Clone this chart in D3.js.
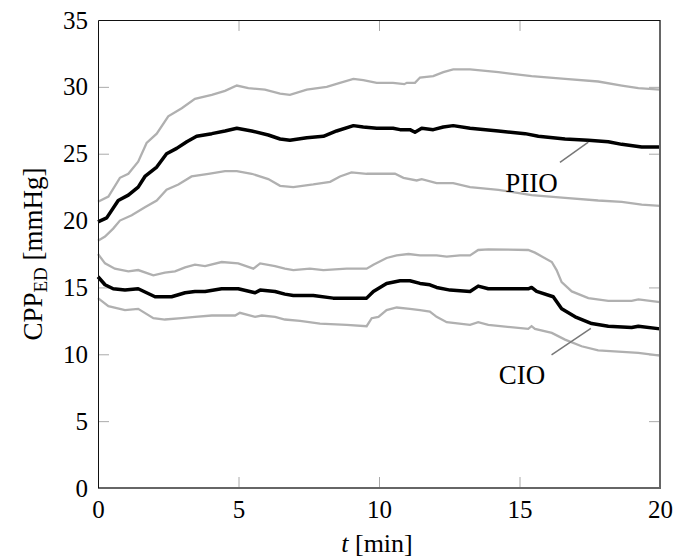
<!DOCTYPE html>
<html>
<head>
	<meta charset="utf-8">
	<script src="https://cdn.jsdelivr.net/npm/d3@7"></script>
	<style>
		body{ margin: 0; background: white; }
		svg text{ font-family: "Liberation Serif", "DejaVu Serif", serif; fill: black; }
		.tick line{ stroke: #aaa; stroke-width: 1; }
		path.band{ fill: none; stroke: #b0b0b0; stroke-width: 2.3; }
		path.mean{ fill: none; stroke: black; stroke-width: 3.5; stroke-linejoin: round; }
		line.leader{ stroke: #777; stroke-width: 1.5; }
	</style>
</head>
<body>
	<script>
		// t [min] vs CPP_ED [mmHg]
		var piioUpper = [[0,21.4],[0.37,21.8],[0.78,23.2],[1.08,23.5],[1.43,24.4],[1.73,25.8],[2.09,26.5],[2.5,27.8],[2.98,28.4],[3.45,29.1],[4.05,29.4],[4.52,29.7],[4.94,30.1],[5.35,29.9],[5.94,29.8],[6.48,29.5],[6.83,29.4],[7.43,29.8],[8.14,30.0],[8.61,30.3],[9.09,30.6],[9.44,30.5],[9.92,30.3],[10.5,30.3],[10.9,30.2],[10.99,30.3],[11.28,30.3],[11.46,30.7],[11.93,30.8],[12.29,31.1],[12.64,31.3],[13.24,31.3],[14.25,31.1],[15.43,30.8],[16.62,30.6],[17.8,30.4],[18.64,30.1],[19.23,29.9],[20,29.8]];
		var piioMean = [[0,19.9],[0.31,20.2],[0.72,21.5],[1.08,21.9],[1.43,22.5],[1.67,23.3],[2.09,24.0],[2.44,25.0],[2.8,25.4],[3.16,25.9],[3.51,26.3],[4.05,26.5],[4.52,26.7],[4.94,26.9],[5.47,26.7],[6.06,26.4],[6.48,26.1],[6.83,26.0],[7.43,26.2],[8.02,26.3],[8.49,26.7],[9.09,27.1],[9.44,27.0],[9.92,26.9],[10.5,26.9],[10.75,26.8],[11.1,26.8],[11.28,26.6],[11.52,26.9],[11.93,26.8],[12.29,27.0],[12.64,27.1],[13.24,26.9],[14.25,26.7],[15.2,26.5],[15.67,26.3],[16.62,26.1],[17.45,26.0],[18.16,25.9],[18.64,25.7],[19.35,25.5],[20,25.5]];
		var piioLower = [[0,18.5],[0.25,18.8],[0.54,19.4],[0.78,20.0],[1.2,20.4],[1.67,21.0],[2.09,21.5],[2.44,22.3],[2.86,22.7],[3.33,23.3],[3.93,23.5],[4.52,23.7],[4.94,23.7],[5.47,23.5],[6.06,23.1],[6.48,22.6],[6.95,22.5],[7.66,22.7],[8.26,22.9],[8.61,23.3],[9.02,23.6],[9.56,23.5],[10.15,23.5],[10.57,23.5],[10.87,23.2],[11.34,23.0],[11.52,23.1],[12.05,22.8],[12.64,22.8],[13.24,22.5],[14.25,22.3],[15.43,21.9],[16.62,21.7],[17.8,21.5],[18.64,21.4],[19.35,21.2],[20,21.1]];

		var cioUpper = [[0,17.5],[0.25,16.8],[0.6,16.4],[1.08,16.2],[1.43,16.3],[1.97,15.9],[2.38,16.1],[2.74,16.2],[3.1,16.5],[3.45,16.7],[3.81,16.6],[4.4,16.9],[4.99,16.8],[5.53,16.4],[5.77,16.8],[6.3,16.6],[6.65,16.4],[6.95,16.3],[7.54,16.4],[8.02,16.3],[8.85,16.4],[9.56,16.4],[9.8,16.7],[10.27,17.2],[10.63,17.4],[11.05,17.5],[11.46,17.4],[12.05,17.4],[12.41,17.3],[12.88,17.4],[13.24,17.4],[13.53,17.8],[13.89,17.85],[15.31,17.8],[15.55,17.6],[16.15,16.9],[16.32,16.3],[16.5,15.4],[16.86,14.7],[17.45,14.2],[18.16,14.0],[18.99,14.0],[19.23,14.1],[20,13.9]];
		var cioMean = [[0,15.8],[0.25,15.2],[0.54,14.9],[0.96,14.8],[1.43,14.9],[1.73,14.6],[2.03,14.3],[2.62,14.3],[3.1,14.6],[3.45,14.7],[3.81,14.7],[4.4,14.9],[4.99,14.9],[5.59,14.6],[5.77,14.8],[6.3,14.7],[6.65,14.5],[6.95,14.4],[7.66,14.4],[8.37,14.2],[9.56,14.2],[9.8,14.7],[10.27,15.3],[10.75,15.5],[11.1,15.5],[11.46,15.3],[11.81,15.2],[12.05,15.0],[12.53,14.8],[13.24,14.7],[13.53,15.1],[13.89,14.9],[15.31,14.9],[15.43,15.0],[15.61,14.7],[16.2,14.3],[16.5,13.4],[16.98,12.8],[17.57,12.3],[18.16,12.1],[18.99,12.0],[19.23,12.1],[20,11.9]];
		var cioLower = [[0,14.2],[0.37,13.6],[0.96,13.3],[1.43,13.4],[1.97,12.7],[2.38,12.6],[2.98,12.7],[3.45,12.8],[4.05,12.9],[4.88,12.9],[5.05,13.1],[5.59,12.8],[5.83,12.9],[6.3,12.8],[6.65,12.6],[7.19,12.5],[7.9,12.3],[8.85,12.2],[9.56,12.1],[9.74,12.7],[9.98,12.8],[10.27,13.3],[10.63,13.5],[11.1,13.4],[11.46,13.3],[11.81,13.2],[12.05,12.8],[12.41,12.4],[13.24,12.2],[13.53,12.4],[13.89,12.2],[15.31,11.9],[15.43,12.1],[15.55,11.9],[16.15,11.6],[16.62,11.1],[17.21,10.6],[17.8,10.3],[18.52,10.2],[19.23,10.1],[20,9.9]];

		var xTicks = [0, 5, 10, 15, 20];
		var yTicks = [0, 5, 10, 15, 20, 25, 30, 35];

		// label text, leader start [t,v], leader end on the curve [t,v], text anchor [t,v]
		var labels = [
			{name: "PIIO", from: [16.44, 24.36], to: [17.45, 25.86], at: [15.43, 22.1]},
			{name: "CIO",  from: [16.14, 9.95],  to: [17.54, 11.94], at: [15.09, 7.78]}
		];

		var serif = "Liberation Serif, DejaVu Serif, serif";
		var margin = {left: 98, top: 20};
		var width = 562, height = 468;

		var svg = d3.select("body").append("svg")
					.attr("width", 675).attr("height", 560)
					.attr("font-family", serif)
					.append("g").attr("transform", "translate(" + margin.left + "," + margin.top + ")");

		var x = d3.scaleLinear().domain([0, 20]).range([0, width]);
		var y = d3.scaleLinear().domain([0, 35]).range([height, 0]);

		// ticks pointing inwards on all four sides
		var axes = [
			svg.append("g").attr("transform", "translate(0," + height + ")")
				.call(d3.axisBottom(x).tickValues(xTicks).tickSizeInner(-11).tickSizeOuter(0).tickPadding(12)),
			svg.append("g")
				.call(d3.axisLeft(y).tickValues(yTicks).tickSizeInner(-11).tickSizeOuter(0).tickPadding(10)),
			svg.append("g")
				.call(d3.axisTop(x).tickValues(xTicks).tickSizeInner(-11).tickSizeOuter(0).tickFormat("")),
			svg.append("g").attr("transform", "translate(" + width + ",0)")
				.call(d3.axisRight(y).tickValues(yTicks).tickSizeInner(-11).tickSizeOuter(0).tickFormat(""))
		];
		axes.forEach(function(a){
			a.attr("font-family", serif).attr("font-size", 25);
		});
		svg.selectAll(".domain").remove();
		// no ticks drawn on top of the corners
		svg.selectAll(".tick line").filter(function(d){ return d == 0 || d == 20 || d == 35; }).remove();

		var line = d3.line()
					.x(function(d){ return x(d[0]); })
					.y(function(d){ return y(d[1]); });

		svg.append("g").selectAll("path")
			.data([piioUpper, piioLower, cioUpper, cioLower])
			.enter().append("path")
			.attr("class", "band")
			.attr("d", line);

		svg.append("g").selectAll("path")
			.data([piioMean, cioMean])
			.enter().append("path")
			.attr("class", "mean")
			.attr("d", line);

		// frame
		svg.append("path").attr("d", "M0," + height + "H" + width + "V0")
			.attr("fill", "none").attr("stroke", "#666").attr("stroke-width", 2);
		svg.append("path").attr("d", "M0.5," + height + "V0.5H" + width)
			.attr("fill", "none").attr("stroke", "#111").attr("stroke-width", 1);

		svg.append("g").selectAll("line")
			.data(labels)
			.enter().append("line")
			.attr("class", "leader")
			.attr("x1", function(d){ return x(d.from[0]); })
			.attr("y1", function(d){ return y(d.from[1]); })
			.attr("x2", function(d){ return x(d.to[0]); })
			.attr("y2", function(d){ return y(d.to[1]); });

		svg.append("g").selectAll("text")
			.data(labels)
			.enter().append("text")
			.attr("x", function(d){ return x(d.at[0]); })
			.attr("y", function(d){ return y(d.at[1]); })
			.attr("text-anchor", "middle")
			.attr("font-size", 27)
			.text(function(d){ return d.name; });

		// axis titles
		var xl = svg.append("text")
			.attr("x", width / 2 - 2).attr("y", height + 64)
			.attr("text-anchor", "middle")
			.attr("font-size", 26);
		xl.append("tspan").attr("font-style", "italic").text("t");
		xl.append("tspan").text(" [min]");

		var yl = svg.append("text")
			.attr("transform", "translate(-56," + (height / 2) + ") rotate(-90)")
			.attr("text-anchor", "middle")
			.attr("font-size", 27);
		yl.append("tspan").text("CPP");
		yl.append("tspan").attr("font-size", 19).attr("dy", 5).text("ED");
		yl.append("tspan").attr("dy", -5).text(" [mmHg]");
	</script>
</body>
</html>
